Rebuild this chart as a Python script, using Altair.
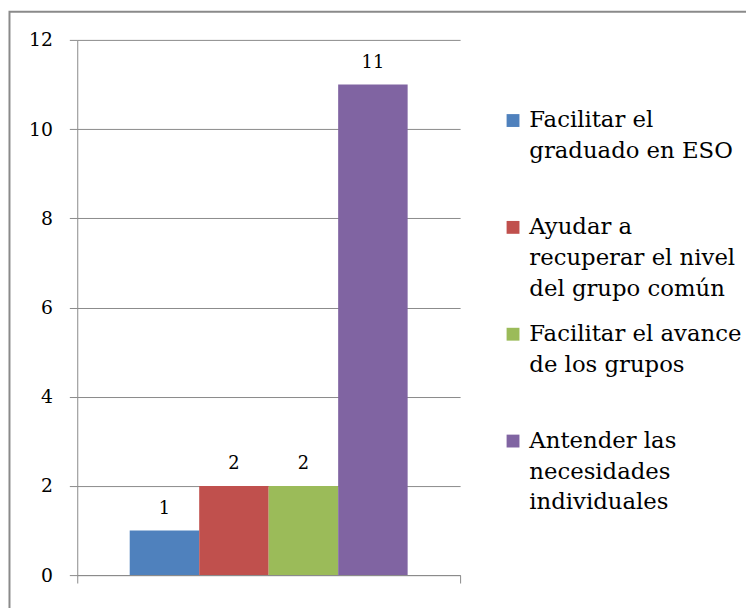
import altair as alt
import pandas as pd

categories = [
    "Facilitar el graduado en ESO",
    "Ayudar a recuperar el nivel del grupo común",
    "Facilitar el avance de los grupos",
    "Antender las necesidades individuales",
]
values = [1, 2, 2, 11]
colors = ["#4F81BD", "#C0504D", "#9BBB59", "#8064A2"]
legend_lines = [
    ["Facilitar el", "graduado en ESO"],
    ["Ayudar a", "recuperar el nivel", "del grupo común"],
    ["Facilitar el avance", "de los grupos"],
    ["Antender las", "necesidades", "individuales"],
]
y_ticks = [0, 2, 4, 6, 8, 10, 12]

df = pd.DataFrame({"cat": categories, "val": values})

GRAY = "#8a8a8a"
FONT = "DejaVu Serif"

# legend labels padded to 3 lines so every entry has the same height
def js_arr(lines):
    padded = lines + [""] * (3 - len(lines))
    return "[" + ",".join("'" + s + "'" for s in padded) + "]"

expr = "''"
for c, lines in reversed(list(zip(categories, legend_lines))):
    expr = f"datum.label == '{c}' ? {js_arr(lines)} : ({expr})"

x_enc = alt.X("cat:N", sort=categories, axis=None,
              scale=alt.Scale(type="band", paddingInner=0, paddingOuter=0.755))
y_enc = alt.Y("val:Q", title=None,
              scale=alt.Scale(domain=[0, 12], nice=False),
              axis=alt.Axis(values=y_ticks, tickSize=8, tickColor=GRAY, tickWidth=1,
                            domainColor=GRAY, domainWidth=1, gridColor=GRAY, gridWidth=1,
                            labelFont=FONT, labelFontSize=19, labelColor="black",
                            labelPadding=17))

bars = alt.Chart(df).mark_bar().encode(
    x=x_enc,
    y=y_enc,
    color=alt.Color("cat:N", sort=categories,
                    scale=alt.Scale(domain=categories, range=colors),
                    legend=alt.Legend(title=None, orient="none", legendX=429, legendY=70,
                                      direction="vertical", padding=0,
                                      symbolType="square", symbolSize=169,
                                      symbolStrokeWidth=0, labelOffset=5,
                                      labelFont=FONT, labelFontSize=23,
                                      labelColor="black", labelLimit=400,
                                      rowPadding=22, labelExpr=expr)),
)

labels = alt.Chart(df).mark_text(baseline="bottom", dy=-13, font=FONT,
                                 fontSize=18, color="black").encode(
    x=x_enc, y=alt.Y("val:Q"), text=alt.Text("val:Q"))

main = alt.layer(bars, labels)

xaxis_df = pd.DataFrame({"t": [0, 1]})
xaxis = alt.Chart(xaxis_df).mark_point(opacity=0).encode(
    x=alt.X("t:Q", title=None,
            scale=alt.Scale(domain=[0, 1], nice=False, zero=False),
            axis=alt.Axis(values=[0, 1], labels=False, tickSize=8, tickColor=GRAY,
                          domainColor=GRAY, grid=False)))

frame = alt.Chart(pd.DataFrame({"f": [1]})).mark_rect(
    fillOpacity=0, stroke=GRAY, strokeWidth=2).encode(
    x=alt.value(-68.5), x2=alt.value(720), y=alt.value(-28.5), y2=alt.value(700))

chart = alt.layer(main, xaxis, frame).resolve_scale(x="independent").properties(
    width=387, height=541,
    autosize=alt.AutoSizeParams(type="none"),
    padding={"left": 70, "top": 29, "right": 289, "bottom": 30},
).configure(
    view={"stroke": "transparent"},
    style={"guide-label": {"lineHeight": 31}},
)

chart.save("out.html", embed_options={"renderer": "svg", "actions": False})
